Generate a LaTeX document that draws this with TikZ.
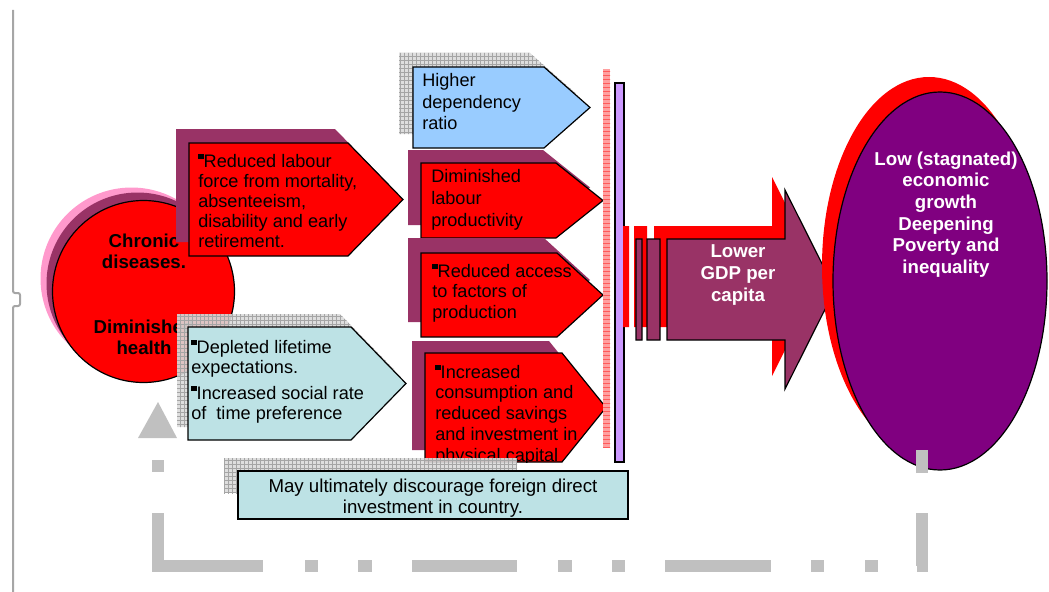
\documentclass[tikz,border=0pt]{standalone}
\usepackage{fontspec}
\setmainfont{Liberation Sans}
\usetikzlibrary{patterns,shapes.geometric}

\definecolor{boxred}{RGB}{255,0,0}
\definecolor{plum}{RGB}{153,51,102}
\definecolor{skyfill}{RGB}{153,204,255}
\definecolor{aqua}{RGB}{189,226,229}
\definecolor{lilac}{RGB}{204,153,255}
\definecolor{deeppurple}{RGB}{128,0,128}
\definecolor{rosy}{RGB}{255,153,204}
\definecolor{silvergray}{RGB}{192,192,192}
\definecolor{gridbg}{RGB}{218,218,218}
\definecolor{gridln}{RGB}{165,165,165}
\definecolor{pageline}{RGB}{166,166,166}
\definecolor{stripebg}{RGB}{255,160,160}
\definecolor{stripeln}{RGB}{255,90,90}

% small square bullet set at cap height
\newcommand\sqb{\raisebox{.44em}{\rule{.3em}{.3em}}}

\tikzset{
  outline/.style={draw=black, line width=0.9pt},
  gridshadow/.style={fill=gridbg, fill opacity=.9, postaction={pattern=grid, pattern color=gridln}},
  pent/.style n args={5}{insert path={(#1,#2) -- (#3,#2) -- (#4,{(#2+#5)/2}) -- (#3,#5) -- (#1,#5) -- cycle}},
  bodytext/.style={anchor=north west, inner sep=0pt, align=left, text=black,
    font=\fontsize{13.6pt}{#1}\selectfont},
  bodytext/.default=15pt,
  boldtext/.style={anchor=north, inner sep=0pt, align=center,
    font=\fontsize{14pt}{#1}\selectfont\bfseries},
  feedback/.style={draw=silvergray, line width=9pt,
    dash pattern=on 9pt off 30.75pt on 118.5pt off 31.5pt on 9.75pt off 30pt
      on 10.5pt off 30pt on 78.75pt off 30.75pt on 10.5pt off 30pt on 9.75pt off 30pt
      on 79.5pt off 30pt on 9.75pt off 30.75pt on 9.75pt off 29.25pt on 43.5pt off 30pt
      on 17.25pt off 60pt,
    dash phase=783pt},
  disc/.style={circle, inner sep=0pt, minimum size=136.5pt},
  oval/.style={ellipse, inner sep=0pt, minimum width=160.5pt, minimum height=283.5pt}
}

\begin{document}
\begin{tikzpicture}[x=0.75pt, y=-0.75pt]
\useasboundingbox (0,0) rectangle (1049,592);

% page rule on the left
\draw[pageline, line width=1.5pt, rounded corners=1.5pt]
  (13,10) -- (13,293) -- (20,293) -- (20,306) -- (13,306) -- (13,592);

% chronic disease disc with its stacked shadows
\node[disc, fill=rosy] (dzback) at (131.5,278.5) {};
\node[disc, fill=plum] (dzmid) at (137.5,283.5) {};
\node[disc, outline, fill=boxred] (dz) at (143.5,291.5) {};
\node[boldtext=16.1pt, text=black] (dztext) at (144,233.5)
  {Chronic\\diseases.\\[32.2pt]Diminished\\health};

% first column of arrow boxes
\fill[plum, shift={(-13,-14)}, pent={189}{143}{348}{403}{256}];
\draw[outline, fill=boxred, pent={189}{143}{348}{403}{256}];
\node[bodytext=15pt] (labour) at (198,153.5)
  {\sqb Reduced labour\\force from mortality,\\absenteeism,\\disability and early\\retirement.};

\fill[gridshadow, shift={(-11,-13)}, pent={188}{327}{351}{406}{440}];
\draw[outline, fill=aqua, pent={188}{327}{351}{406}{440}];
\node[bodytext=15pt] (depleted) at (191,339.5)
  {\sqb Depleted lifetime\\expectations.\\[4.5pt]\sqb Increased social rate\\of~ time preference};

% feedback marker
\fill[silvergray] (158,402) -- (177,438) -- (138,438) -- cycle;
\coordinate (tri) at (158,438);

% second column of arrow boxes
\fill[gridshadow, shift={(-14,-14)}, pent={413}{67}{544}{590}{148}];
\draw[outline, fill=skyfill, pent={413}{67}{544}{590}{148}];
\node[bodytext=16.1pt] (depend) at (422,73.5) {Higher\\dependency\\ratio};

\fill[plum, shift={(-13,-13)}, pent={421}{163}{556}{603}{238}];
\draw[outline, fill=boxred, pent={421}{163}{556}{603}{238}];
\node[bodytext=16.5pt] (product) at (431,169.5) {Diminished\\labour\\productivity};

\fill[plum, shift={(-13,-15)}, pent={421}{253}{557}{603}{337}];
\draw[outline, fill=boxred, pent={421}{253}{557}{603}{337}];
\node[bodytext=15.4pt] (access) at (432,263.5) {\sqb Reduced access\\to factors of\\production};

\fill[plum, shift={(-13,-12)}, pent={425}{353}{562}{606}{462}];
\draw[outline, fill=boxred, pent={425}{353}{562}{606}{462}];
\begin{scope}
  \clip[pent={425}{353}{562}{606}{462}];
  \node[bodytext=15.6pt] (saving) at (435,364.5)
    {\sqb Increased\\consumption and\\reduced savings\\and investment in\\physical capital};
\end{scope}

% collecting bars
\fill[stripebg, postaction={pattern=horizontal lines, pattern color=stripeln}]
  (603,69) rectangle (610,447);
\draw[outline, fill=lilac] (615,83) rectangle (624,462);

% GDP arrow: red copy behind, plum copy in front
\fill[boxred] (623,226) rectangle (629,327) (634,226) rectangle (647,327)
  (654,226) -- (772,226) -- (772,177) -- (822,276.5) -- (772,376) -- (772,327) -- (654,327) -- cycle;
\begin{scope}[shift={(13,13)}]
  \draw[outline, fill=plum] (623,226) rectangle (629,327) (634,226) rectangle (647,327)
    (654,226) -- (772,226) -- (772,177) -- (822,276.5) -- (772,376) -- (772,327) -- (654,327) -- cycle;
\end{scope}
\node[boldtext=16.5pt, text=white] (gdp) at (738,244.5) {Lower\\GDP per\\capita};

% outcome oval
\node[oval, fill=boxred] (ellback) at (929,266) {};
\node[oval, outline, fill=deeppurple] (ell) at (940,281) {};
\node[boldtext=16.2pt, text=white] (growth) at (946,151.5)
  {Low (stagnated)\\economic\\growth\\Deepening\\Poverty and\\inequality};
\coordinate (fbend) at (922,450);

% foreign direct investment note
\fill[gridshadow] (224,458) rectangle (517,493);
\draw[outline, fill=aqua] (238,471) rectangle (628,519);
\begin{scope}
  \clip (238,471) rectangle (628,519);
  \node[anchor=north, inner sep=0pt, align=center, font=\fontsize{14pt}{15.75pt}\selectfont]
    (fdi) at (433,479) {May ultimately discourage foreign direct\\investment in country.};
\end{scope}

% feedback loop back to the start
\draw[feedback] (tri) -- ++(0,128) -| (fbend);
\end{tikzpicture}
\end{document}
